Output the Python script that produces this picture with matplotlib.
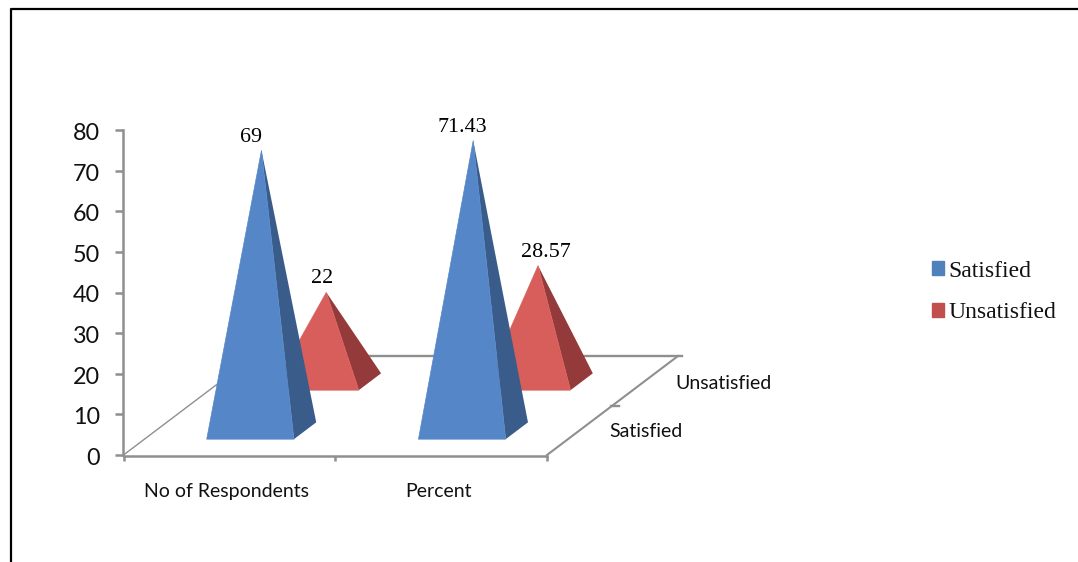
import matplotlib
matplotlib.use("Agg")
import matplotlib.pyplot as plt
from matplotlib.lines import Line2D
from matplotlib.patches import Patch
from matplotlib.transforms import ScaledTranslation

categories = ["No of Respondents", "Percent"]
series_names = ["Satisfied", "Unsatisfied"]
satisfied = [69, 71.43]
unsatisfied = [22, 28.57]
value_labels = [["69", "71.43"], ["22", "28.57"]]
y_ticks = [0, 10, 20, 30, 40, 50, 60, 70, 80]

W, H = 1078, 562
fig = plt.figure(figsize=(W / 100, H / 100), dpi=100)
ax = fig.add_axes([123.5 / W, (H - 455) / H, 423.5 / W, 325 / H])
ax.set_xlim(0, 2)
ax.set_ylim(0, 80)
ax.patch.set_alpha(0)

# oblique projection of the floor: depth 0 is the front edge, depth 1 the back
DEPTH_X = 131 / 211.75
DEPTH_Y = 99 / 4.0625
HALF_W = 0.206
HALF_D = 0.085
ROW_DEPTH = [0.245, 0.74]


def project(cat, depth, value=0):
    return cat + depth * DEPTH_X, value + depth * DEPTH_Y


GREY = "#8f8f8f"

# floor outline
back_l = project(0, 1)
back_r = project(2, 1)
front_r = project(2, 0)
ax.plot([0, back_l[0]], [0, back_l[1]], color=GREY, lw=1.0, clip_on=False, zorder=1)
ax.plot([back_l[0], back_r[0] + 0.02], [back_l[1], back_r[1]], color=GREY, lw=1.7,
        clip_on=False, zorder=1)
ax.plot([front_r[0], back_r[0]], [front_r[1], back_r[1]], color=GREY, lw=1.5,
        clip_on=False, zorder=1)
mid = project(2, 0.5)
ax.plot([mid[0] - 0.005, mid[0] + 0.03], [mid[1], mid[1]], color=GREY, lw=1.7,
        clip_on=False, zorder=1)

face_colors = [("#5586C7", "#395C8A"), ("#D85E5B", "#943A3A")]
label_offsets = [[(-10, 11), (-11, 11)], [(-4, 12), (8, 11)]]


def pyramid(cat, depth, value, front, side, z):
    fl = project(cat - HALF_W, depth - HALF_D)
    fr = project(cat + HALF_W, depth - HALF_D)
    br = project(cat + HALF_W, depth + HALF_D)
    apex = project(cat, depth, value)
    ax.fill(*zip(br, fr, apex), color=side, lw=0, clip_on=False, zorder=z)
    ax.fill(*zip(fl, fr, apex), facecolor=front, edgecolor=front, lw=0.5,
            clip_on=False, zorder=z + 0.1)
    return apex


# back row first so the front row covers it
for row in [1, 0]:
    values = [satisfied, unsatisfied][row]
    for i, v in enumerate(values):
        front, side = face_colors[row]
        apex = pyramid(i + 0.5, ROW_DEPTH[row], v, front, side, 3 - row)
        off = label_offsets[row][i]
        ax.annotate(value_labels[row][i], apex, xytext=(off[0] * 0.72, off[1] * 0.72 + 1.4),
                    textcoords="offset points", ha="center", va="center",
                    family="Liberation Serif", fontsize=15.8, color="black",
                    annotation_clip=False, zorder=6)

# axes
for s in ["top", "right"]:
    ax.spines[s].set_visible(False)
for s in ["left", "bottom"]:
    ax.spines[s].set_color(GREY)
    ax.spines[s].set_linewidth(1.8)
    ax.spines[s].set_position(("outward", 0.5))
ax.set_yticks(y_ticks)
ax.set_xticks([0, 1, 2])
ax.set_xticklabels([])
ax.tick_params(axis="y", length=5.5, width=1.8, color=GREY, pad=11,
               labelsize=16.8, labelfontfamily="Lato", labelcolor="#111111")
ax.tick_params(axis="x", length=3.5, width=1.8, color=GREY)
# nudge the numbers down a little against their ticks
nudge = ScaledTranslation(0, -1.5 / 100, fig.dpi_scale_trans)
for lbl in ax.get_yticklabels():
    lbl.set_transform(lbl.get_transform() + nudge)

for i, name in enumerate(categories):
    ax.annotate(name, (i + 0.5, 0), xytext=(-2.2, -26), textcoords="offset points",
                ha="center", va="center", family="Lato", fontsize=14, color="#111111",
                annotation_clip=False)

# series names beside the depth axis
for depth, name, off in [(0.25, series_names[0], (48, -1)), (0.75, series_names[1], (56, -2))]:
    ax.annotate(name, project(2, depth), xytext=off, textcoords="offset points",
                ha="center", va="center", family="Lato", fontsize=14, color="#111111",
                annotation_clip=False)

handles = [Patch(color="#4F81BD", label=series_names[0]),
           Patch(color="#C0504D", label=series_names[1])]
fig.legend(handles=handles, loc="center left", bbox_to_anchor=(925 / W, 1 - 292 / H),
           frameon=False, prop={"family": "Liberation Serif", "size": 17},
           handlelength=0.52, handleheight=0.52, handletextpad=0.17, labelspacing=0.88,
           labelcolor="#111111", borderpad=0.3, borderaxespad=0)

# page frame
fig.add_artist(Line2D([10.5 / W, 10.5 / W, 1], [0, 1 - 8.5 / H, 1 - 8.5 / H],
                      transform=fig.transFigure, color="black", lw=1.6))

fig.savefig("out.png", dpi=100)
